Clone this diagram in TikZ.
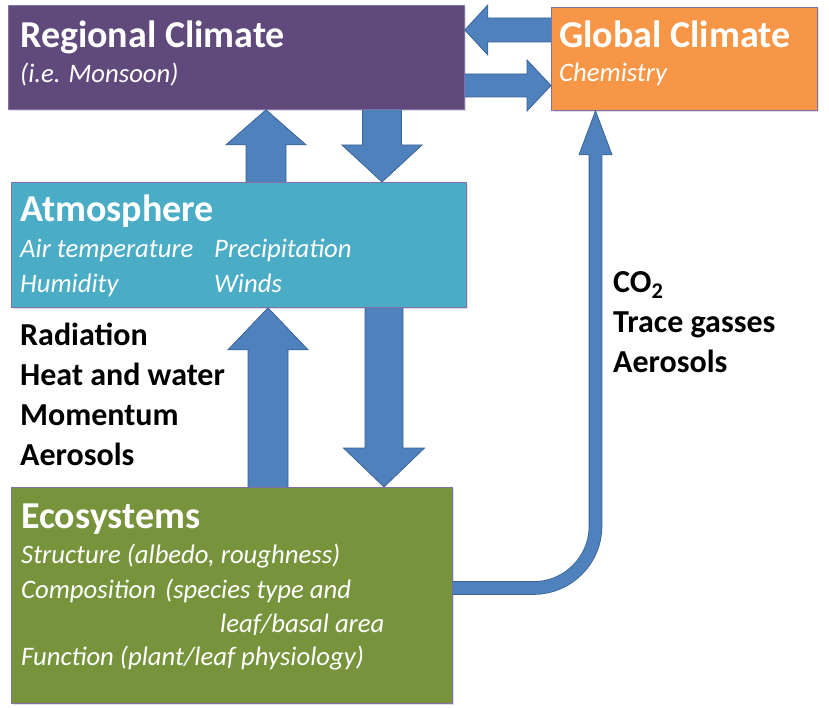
\documentclass[tikz,border=0pt]{standalone}
\usepackage{fontspec}
\setmainfont{Carlito}
\usetikzlibrary{calc,shadows}

\definecolor{regpurple}{HTML}{604A7B}
\definecolor{globorange}{HTML}{F79646}
\definecolor{atmcyan}{HTML}{4BACC6}
\definecolor{ecogreen}{HTML}{77933C}
\definecolor{flowblue}{HTML}{4F81BD}
\definecolor{flowline}{HTML}{3A6494}
\definecolor{boxline}{HTML}{8470A8}

\begin{document}
\begin{tikzpicture}[x=1pt,y=-1pt]

		\useasboundingbox (0,0) rectangle (829,708);

		\tikzstyle{sphere}=[rectangle,draw=boxline,line width=0.8pt,
			anchor=north west,inner sep=0pt,
			drop shadow={opacity=0.25,shadow xshift=1.5pt,shadow yshift=-1.5pt}]
		\tikzstyle{title}=[anchor=base west,inner sep=0pt,text=white,
			font=\bfseries\fontsize{38}{40}\selectfont]
		\tikzstyle{detail}=[anchor=base west,inner sep=0pt,text=white,
			font=\itshape\fontsize{26.7}{30}\selectfont]
		\tikzstyle{flux}=[anchor=base west,inner sep=0pt,
			font=\bfseries\fontsize{32}{34}\selectfont]
		\tikzset{
			fatv/.style n args={3}{fill=flowblue,draw=flowline,line width=0.8pt,
				to path={let \p1=(\tikztostart),\p2=(\tikztotarget),\n1={sign(\y2-\y1)} in
					({\x1-#1},\y1) -- ({\x1-#1},{\y2-(\n1)*#3}) -- ({\x1-#2},{\y2-(\n1)*#3})
					-- (\x1,\y2) -- ({\x1+#2},{\y2-(\n1)*#3}) -- ({\x1+#1},{\y2-(\n1)*#3})
					-- ({\x1+#1},\y1)}},
			fath/.style n args={3}{fill=flowblue,draw=flowline,line width=0.8pt,
				to path={let \p1=(\tikztostart),\p2=(\tikztotarget),\n1={sign(\x2-\x1)} in
					(\x1,{\y1-#1}) -- ({\x2-(\n1)*#3},{\y1-#1}) -- ({\x2-(\n1)*#3},{\y1-#2})
					-- (\x2,\y1) -- ({\x2-(\n1)*#3},{\y1+#2}) -- ({\x2-(\n1)*#3},{\y1+#1})
					-- (\x1,{\y1+#1})}},
			pipe/.style={draw=flowline,line width=0.8pt,double=flowblue,
				double distance=12pt,rounded corners=62pt}}

		% the four boxes
		\node[sphere,fill=regpurple,minimum width=456pt,minimum height=104pt]	(reg)	at (8,5)	{};
		\node[sphere,fill=globorange,minimum width=266pt,minimum height=103pt]	(glob)	at (551,7)	{};
		\node[sphere,fill=atmcyan,minimum width=455pt,minimum height=125pt]	(atm)	at (11,182)	{};
		\node[sphere,fill=ecogreen,minimum width=441pt,minimum height=216pt]	(eco)	at (11,487)	{};

		\node[title]	(regT)	at ([shift={(12,43)}]reg.north west)	{Regional Climate};
		\node[detail]	(regS)	at ([shift={(12,78)}]reg.north west)	{(i.e. Monsoon)};
		\node[title]	(globT)	at ([shift={(8,41)}]glob.north west)	{Global Climate};
		\node[detail]	(globS)	at ([shift={(8,75)}]glob.north west)	{Chemistry};

		\node[title]	(atmT)	at ([shift={(9,40)}]atm.north west)	{Atmosphere};
		\node[detail]	(atmA)	at ([shift={(9,76)}]atm.north west)	{Air temperature};
		\node[detail]	(atmP)	at ([shift={(203,76)}]atm.north west)	{Precipitation};
		\node[detail]	(atmH)	at ([shift={(9,111)}]atm.north west)	{Humidity};
		\node[detail]	(atmW)	at ([shift={(203,111)}]atm.north west)	{Winds};

		\node[title]	(ecoT)	at ([shift={(10,41)}]eco.north west)	{Ecosystems};
		\node[detail]	(ecoS)	at ([shift={(10,76)}]eco.north west)	{Structure (albedo, roughness)};
		\node[detail]	(ecoC)	at ([shift={(10,111)}]eco.north west)	{Composition\hspace{9pt}(species type and};
		\node[detail]	(ecoL)	at ([shift={(209,145)}]eco.north west)	{leaf/basal area};
		\node[detail]	(ecoF)	at ([shift={(10,178)}]eco.north west)	{Function (plant/leaf physiology)};

		% fluxes
		\foreach \txt [count=\i] in {Radiation,Heat and water,Momentum,Aerosols}
			\node[flux]	(land\i)	at ([shift={(9,{38+40*(\i-1)})}]atm.south west)	{\txt};
		\foreach \txt [count=\i] in {CO\textsubscript{2},Trace gasses,Aerosols}
			\node[flux]	(chem\i)	at ([shift={(62,{182+40*(\i-1)})}]glob.south west)	{\txt};

		\draw[fatv={20pt}{40pt}{35pt}]	([shift={(255,0)}]atm.north west) to (reg.south);
		\draw[fatv={19.5pt}{40pt}{37pt}]	([shift={(374,0)}]reg.south west) to (atm.north);
		\draw[fath={12pt}{25pt}{23pt}]	([shift={(0,23)}]glob.north west) to (reg.east);
		\draw[fath={11.5pt}{25.5pt}{24pt}]	([shift={(0,80.5)}]reg.north east) to (glob.west);
		\draw[fatv={20pt}{40pt}{42pt}]	([shift={(257,0)}]eco.north west) to (atm.south);
		\draw[fatv={19pt}{40.5pt}{39pt}]	([shift={(373,0)}]atm.south west) to (eco.north);

		\coordinate (co2foot) at ([shift={(44.5,44)}]glob.south west);
		\draw[pipe] ([shift={(0,101)}]eco.north east) -| (co2foot);
		\draw[fatv={6.5pt}{16.5pt}{44pt}] (co2foot) to (glob.south);

	\end{tikzpicture}
\end{document}
